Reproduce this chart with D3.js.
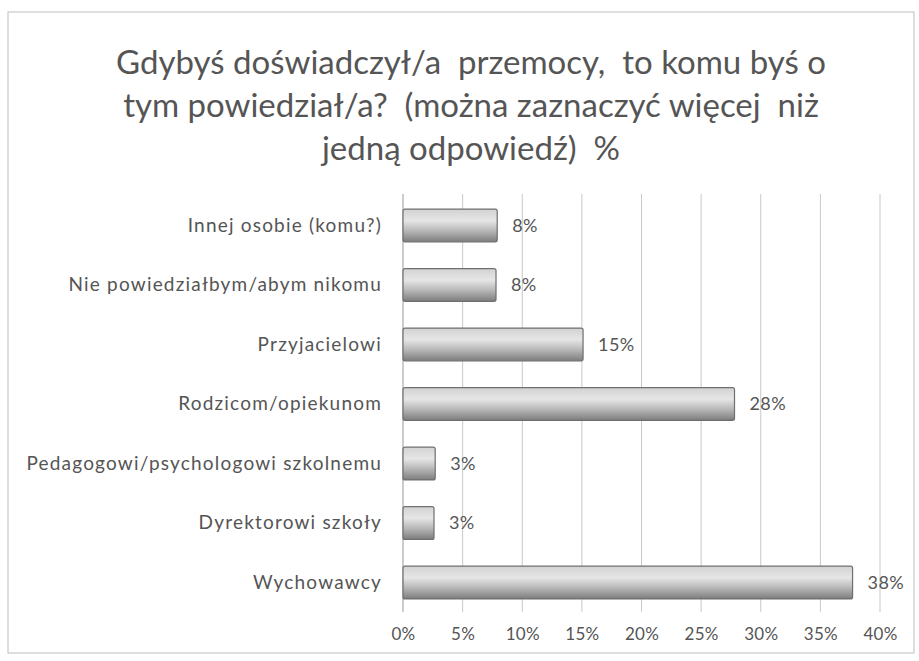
<!DOCTYPE html>
<meta charset="utf-8">
<style>
body { margin: 0; background: #fff; }
svg { font-family: Lato, "Open Sans", sans-serif; }
.axis .domain { display: none; }
.axis line { display: none; }
.axis text { fill: #555; font-family: Lato, "Open Sans", sans-serif; }
.xaxis text { font-size: 17px; letter-spacing: 0.3px; }
.yaxis text { font-size: 19px; letter-spacing: 1.2px; }
</style>
<svg id="chart" width="919" height="661"></svg>
<script src="https://d3js.org/d3.v7.min.js"></script>
<script>

var titleLines = [
  "Gdybyś doświadczył/a  przemocy,  to komu byś o",
  "tym powiedział/a?  (można zaznaczyć więcej  niż",
  "jedną odpowiedź)  %"
];
var categories = [
  "Innej osobie (komu?)",
  "Nie powiedziałbym/abym nikomu",
  "Przyjacielowi",
  "Rodzicom/opiekunom",
  "Pedagogowi/psychologowi szkolnemu",
  "Dyrektorowi szkoły",
  "Wychowawcy"
];
var values = [7.9, 7.8, 15.1, 27.8, 2.7, 2.6, 37.7];
var ticks = [0, 5, 10, 15, 20, 25, 30, 35, 40];

var svg = d3.select("#chart");
var plotLeft = 403, plotRight = 880, plotTop = 196, plotBottom = 612;

var x = d3.scaleLinear().domain([0, 40]).range([plotLeft, plotRight]);
var y = d3.scaleBand().domain(categories).range([plotTop, plotBottom])
  .paddingInner(0.45).paddingOuter(0.22);

// outer frame
svg.append("rect")
  .attr("x", 8).attr("y", 12).attr("width", 906).attr("height", 641)
  .attr("fill", "none").attr("stroke", "#c8c8c8").attr("stroke-width", 1.2);

// title
svg.append("g").selectAll("text")
  .data(titleLines)
  .enter().append("text")
    .attr("x", 471)
    .attr("y", function(d, i) { return 74 + i * 43; })
    .attr("text-anchor", "middle")
    .attr("fill", "#555")
    .attr("font-size", 33)
    .style("white-space", "pre")
    .text(function(d) { return d; });

// bar gradient
var grad = svg.append("defs").append("linearGradient")
  .attr("id", "barGrad").attr("x1", 0).attr("y1", 0).attr("x2", 0).attr("y2", 1);
grad.append("stop").attr("offset", "0%").attr("stop-color", "#d2d2d2");
grad.append("stop").attr("offset", "35%").attr("stop-color", "#e6e6e6");
grad.append("stop").attr("offset", "65%").attr("stop-color", "#b9b9b9");
grad.append("stop").attr("offset", "100%").attr("stop-color", "#7d7d7d");

// gridlines
svg.append("g").selectAll("line")
  .data(ticks)
  .enter().append("line")
    .attr("x1", function(d) { return x(d); })
    .attr("x2", function(d) { return x(d); })
    .attr("y1", plotTop - 2)
    .attr("y2", plotBottom)
    .attr("stroke", function(d) { return d === 0 ? "#999" : "#c8c8c8"; })
    .attr("stroke-width", 1);

// x axis labels
svg.append("g")
  .attr("class", "axis xaxis")
  .attr("transform", "translate(0," + (plotBottom + 13) + ")")
  .call(d3.axisBottom(x).tickValues(ticks).tickSize(0).tickFormat(function(d) { return d + "%"; }));

// category labels
svg.append("g")
  .attr("class", "axis yaxis")
  .attr("transform", "translate(" + (plotLeft - 18) + ",0)")
  .call(d3.axisLeft(y).tickSize(0));

// bars
var data = categories.map(function(c, i) { return {cat: c, value: values[i]}; });

svg.append("g").selectAll("rect")
  .data(data)
  .enter().append("rect")
    .attr("x", x(0))
    .attr("y", function(d) { return y(d.cat); })
    .attr("width", function(d) { return x(d.value) - x(0); })
    .attr("height", y.bandwidth())
    .attr("rx", 2)
    .attr("fill", "url(#barGrad)")
    .attr("stroke", "#6f6f6f")
    .attr("stroke-width", 1.2);

// value labels
svg.append("g").selectAll("text")
  .data(data)
  .enter().append("text")
    .attr("x", function(d) { return x(d.value) + 15; })
    .attr("y", function(d) { return y(d.cat) + y.bandwidth() / 2; })
    .attr("dy", "0.35em")
    .attr("fill", "#555")
    .attr("font-size", 18)
    .attr("letter-spacing", 0.4)
    .text(function(d) { return Math.round(d.value) + "%"; });

</script>
